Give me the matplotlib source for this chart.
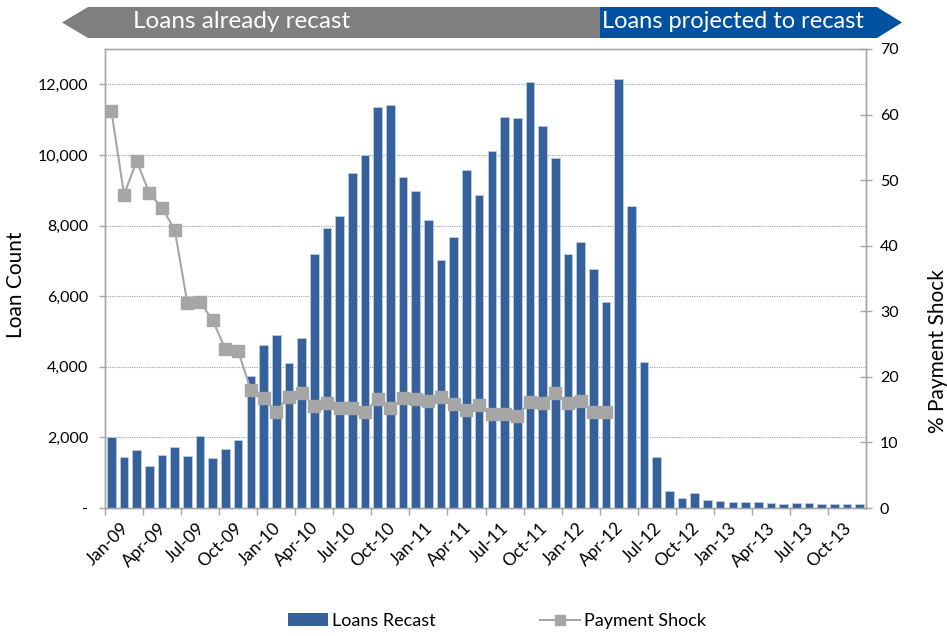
import matplotlib
matplotlib.use("Agg")
import matplotlib.pyplot as plt
from matplotlib.patches import Polygon, Patch
from matplotlib.lines import Line2D
import numpy as np

plt.rcParams['font.family'] = ['Lato', 'DejaVu Sans']

months = [f"{m}-{y:02d}" for y in range(9, 14) for m in
          ["Jan", "Feb", "Mar", "Apr", "May", "Jun", "Jul", "Aug", "Sep", "Oct", "Nov", "Dec"]]

loans_recast = [
    2000, 1455, 1654, 1200, 1512, 1739, 1484, 2051, 1418, 1663, 1938, 3752,
    4612, 4896, 4102, 4801, 7202, 7921, 8270, 9490, 10000, 11361, 11427, 9386,
    8979, 8166, 7032, 7665, 9565, 8875, 10104, 11078, 11059, 12070, 10822, 9924,
    7202, 7524, 6777, 5832, 12155, 8563, 4149, 1456, 473, 284, 425, 217,
    189, 161, 180, 180, 142, 123, 151, 151, 113, 113, 113, 123,
]

payment_shock = [
    60.6, 47.8, 52.9, 48.0, 45.8, 42.4, 31.2, 31.4, 28.6, 24.2, 23.9, 18.0,
    16.7, 14.7, 17.0, 17.5, 15.6, 16.0, 15.2, 15.2, 14.7, 16.6, 15.3, 16.7,
    16.6, 16.3, 16.9, 15.8, 15.0, 15.7, 14.3, 14.4, 14.1, 16.1, 16.0, 17.6,
    16.0, 16.3, 14.6, 14.7,
]

left_ticks = [0, 2000, 4000, 6000, 8000, 10000, 12000]
right_ticks = [0, 10, 20, 30, 40, 50, 60, 70]

W, H = 947, 636
fig = plt.figure(figsize=(W / 100, H / 100), dpi=100)

L, R, T, B = 105, 866, 49, 508
ax = fig.add_axes([L / W, 1 - B / H, (R - L) / W, (B - T) / H])
ax2 = ax.twinx()

axis_grey = "#A6A6A6"
bar_color = "#36609A"
line_grey = "#A6A6A6"

n = len(months)
x = np.arange(n) + 0.5
ax.bar(x, loans_recast, width=0.68, color=bar_color, edgecolor="#B9CDE5",
       linewidth=0.6, zorder=3)
ax.set_xlim(0, n)
ax.set_ylim(0, 13000)
ax.set_yticks(left_ticks)
ax.set_yticklabels(["-" if v == 0 else f"{v:,}" for v in left_ticks], fontsize=11.5)
ax.yaxis.grid(True, linestyle=(0, (1, 1)), color="#A0A0A0", linewidth=0.8, zorder=0)
ax.set_axisbelow(True)

ax.set_xticks(np.arange(0, n, 3), minor=False)
ax.set_xticklabels([])
ax.tick_params(axis="x", length=5, color=axis_grey, width=1)
ax.tick_params(axis="y", length=4, color=axis_grey, width=1, pad=8)
for i in range(0, n, 3):
    ax.text(x[i] + 0.7, -330, months[i], rotation=45, ha="right", va="top",
            rotation_mode="anchor", fontsize=12.5, transform=ax.transData)

ax2.plot(x[:len(payment_shock)], payment_shock, color=line_grey, linewidth=1.5,
         marker="s", markersize=8, markerfacecolor="#A6A6A6",
         markeredgecolor="#A6A6A6", zorder=5)
ax2.set_ylim(0, 70)
ax2.set_yticks(right_ticks)
ax2.tick_params(axis="y", length=8, direction="inout", color=axis_grey,
                width=1, labelsize=11.5, pad=6)

for a in (ax, ax2):
    for s in a.spines.values():
        s.set_color(axis_grey)
        s.set_linewidth(1)
ax.spines["top"].set_color("#C8C8C8")

ax.set_ylabel("Loan Count", fontsize=15)
ax.yaxis.set_label_coords((26 - L) / (R - L), (B - 285) / (B - T))
ax2.set_ylabel("% Payment Shock", fontsize=15)
ax2.yaxis.set_label_coords((928 - L) / (R - L), (B - 351) / (B - T))

# banner
def P(px, py):
    return (px / W, 1 - py / H)

grey_poly = Polygon([P(62, 22.5), P(88, 7), P(600, 7), P(600, 38), P(88, 38)],
                    closed=True, transform=fig.transFigure, facecolor="#7F7F7F",
                    edgecolor="none")
blue_poly = Polygon([P(600, 7), P(877, 7), P(902, 22.5), P(877, 38), P(600, 38)],
                    closed=True, transform=fig.transFigure, facecolor="#0052A0",
                    edgecolor="none")
fig.patches.extend([grey_poly, blue_poly])
fig.text(242 / W, 1 - 22 / H, "Loans already recast", color="white", fontsize=17.5,
         ha="center", va="center")
fig.text(733 / W, 1 - 22 / H, "Loans projected to recast", color="white",
         fontsize=17, ha="center", va="center")

handles = [Patch(facecolor=bar_color, edgecolor="none"),
           Line2D([0], [0], color=line_grey, linewidth=1.5, marker="s",
                  markersize=7, markerfacecolor="#A6A6A6", markeredgecolor="#A6A6A6")]
fig.legend(handles, ["Loans Recast", "Payment Shock"], loc="center",
           bbox_to_anchor=(497 / W, 1 - 621 / H), ncol=2, frameon=False,
           fontsize=13, columnspacing=5.8, handlelength=2.2, handletextpad=0.2)

fig.savefig("out.png", dpi=100)
